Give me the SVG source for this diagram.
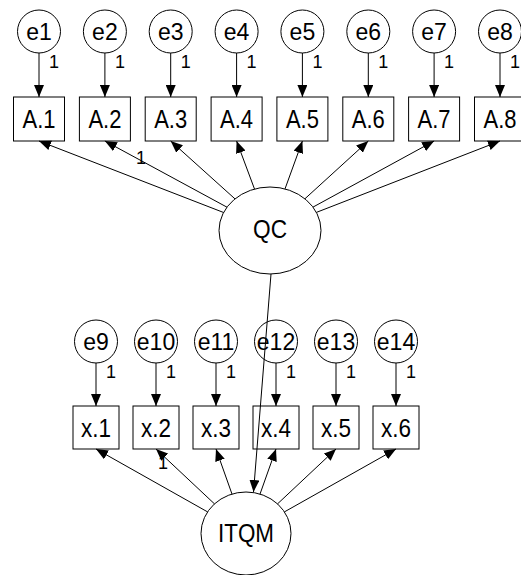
<svg xmlns="http://www.w3.org/2000/svg" width="521" height="575" viewBox="0 0 521 575">
<defs>
<marker id="ah" markerUnits="userSpaceOnUse" markerWidth="12" markerHeight="10" refX="12" refY="5" orient="auto">
<path d="M0,0 L12,5 L0,10 z" fill="#000"/>
</marker>
<style>
.n{fill:#fff;stroke:#000;stroke-width:1}
.t{font-family:"Liberation Sans",Arial,sans-serif;fill:#000;text-anchor:middle}
.e{font-size:23px}
.b{font-size:26px}
.l{font-size:26px}
.one{font-family:"Liberation Sans",Arial,sans-serif;font-size:18px;fill:#000}
.c{stroke:#000;stroke-width:1;fill:none;marker-end:url(#ah)}
</style>
</defs>
<rect width="521" height="575" fill="#fff"/>
<g id="e1"><circle class="n" cx="39" cy="31.5" r="21.5"/><text class="t e" x="39" y="39.7">e1</text></g>
<g id="e2"><circle class="n" cx="104.9" cy="31.5" r="21.5"/><text class="t e" x="104.9" y="39.7">e2</text></g>
<g id="e3"><circle class="n" cx="170.7" cy="31.5" r="21.5"/><text class="t e" x="170.7" y="39.7">e3</text></g>
<g id="e4"><circle class="n" cx="236.6" cy="31.5" r="21.5"/><text class="t e" x="236.6" y="39.7">e4</text></g>
<g id="e5"><circle class="n" cx="302.4" cy="31.5" r="21.5"/><text class="t e" x="302.4" y="39.7">e5</text></g>
<g id="e6"><circle class="n" cx="368.3" cy="31.5" r="21.5"/><text class="t e" x="368.3" y="39.7">e6</text></g>
<g id="e7"><circle class="n" cx="434.1" cy="31.5" r="21.5"/><text class="t e" x="434.1" y="39.7">e7</text></g>
<g id="e8"><circle class="n" cx="500" cy="31.5" r="21.5"/><text class="t e" x="500" y="39.7">e8</text></g>
<g id="A1"><rect class="n" x="13.5" y="97" width="51" height="44"/><text class="t b" x="39" y="127.5" textLength="33" lengthAdjust="spacingAndGlyphs">A.1</text></g>
<g id="A2"><rect class="n" x="79.4" y="97" width="51" height="44"/><text class="t b" x="104.9" y="127.5" textLength="33" lengthAdjust="spacingAndGlyphs">A.2</text></g>
<g id="A3"><rect class="n" x="145.2" y="97" width="51" height="44"/><text class="t b" x="170.7" y="127.5" textLength="33" lengthAdjust="spacingAndGlyphs">A.3</text></g>
<g id="A4"><rect class="n" x="211.1" y="97" width="51" height="44"/><text class="t b" x="236.6" y="127.5" textLength="33" lengthAdjust="spacingAndGlyphs">A.4</text></g>
<g id="A5"><rect class="n" x="276.9" y="97" width="51" height="44"/><text class="t b" x="302.4" y="127.5" textLength="33" lengthAdjust="spacingAndGlyphs">A.5</text></g>
<g id="A6"><rect class="n" x="342.8" y="97" width="51" height="44"/><text class="t b" x="368.3" y="127.5" textLength="33" lengthAdjust="spacingAndGlyphs">A.6</text></g>
<g id="A7"><rect class="n" x="408.6" y="97" width="51" height="44"/><text class="t b" x="434.1" y="127.5" textLength="33" lengthAdjust="spacingAndGlyphs">A.7</text></g>
<g id="A8"><rect class="n" x="474.5" y="97" width="51" height="44"/><text class="t b" x="500" y="127.5" textLength="33" lengthAdjust="spacingAndGlyphs">A.8</text></g>
<g id="QC"><ellipse class="n" cx="270" cy="230.5" rx="51" ry="43.5"/><text class="t l" x="270" y="238" textLength="34" lengthAdjust="spacingAndGlyphs">QC</text></g>
<g id="e9"><circle class="n" cx="96" cy="341.5" r="21.5"/><text class="t e" x="96" y="349.7">e9</text></g>
<g id="e10"><circle class="n" cx="156" cy="341.5" r="21.5"/><text class="t e" x="156" y="349.7">e10</text></g>
<g id="e11"><circle class="n" cx="216" cy="341.5" r="21.5"/><text class="t e" x="216" y="349.7">e11</text></g>
<g id="e12"><circle class="n" cx="276" cy="341.5" r="21.5"/><text class="t e" x="276" y="349.7">e12</text></g>
<g id="e13"><circle class="n" cx="336" cy="341.5" r="21.5"/><text class="t e" x="336" y="349.7">e13</text></g>
<g id="e14"><circle class="n" cx="396" cy="341.5" r="21.5"/><text class="t e" x="396" y="349.7">e14</text></g>
<g id="x1"><rect class="n" x="73" y="406" width="46" height="43"/><text class="t b" x="96" y="436.5" textLength="30" lengthAdjust="spacingAndGlyphs">x.1</text></g>
<g id="x2"><rect class="n" x="133" y="406" width="46" height="43"/><text class="t b" x="156" y="436.5" textLength="30" lengthAdjust="spacingAndGlyphs">x.2</text></g>
<g id="x3"><rect class="n" x="193" y="406" width="46" height="43"/><text class="t b" x="216" y="436.5" textLength="30" lengthAdjust="spacingAndGlyphs">x.3</text></g>
<g id="x4"><rect class="n" x="253" y="406" width="46" height="43"/><text class="t b" x="276" y="436.5" textLength="30" lengthAdjust="spacingAndGlyphs">x.4</text></g>
<g id="x5"><rect class="n" x="313" y="406" width="46" height="43"/><text class="t b" x="336" y="436.5" textLength="30" lengthAdjust="spacingAndGlyphs">x.5</text></g>
<g id="x6"><rect class="n" x="373" y="406" width="46" height="43"/><text class="t b" x="396" y="436.5" textLength="30" lengthAdjust="spacingAndGlyphs">x.6</text></g>
<g id="ITQM"><ellipse class="n" cx="246" cy="533.5" rx="45" ry="41.5"/><text class="t l" x="246" y="542" textLength="56" lengthAdjust="spacingAndGlyphs">ITQM</text></g>
<g id="connectors">
<line class="c" x1="39" y1="53" x2="39" y2="97"/>
<line class="c" x1="104.9" y1="53" x2="104.9" y2="97"/>
<line class="c" x1="170.7" y1="53" x2="170.7" y2="97"/>
<line class="c" x1="236.6" y1="53" x2="236.6" y2="97"/>
<line class="c" x1="302.4" y1="53" x2="302.4" y2="97"/>
<line class="c" x1="368.3" y1="53" x2="368.3" y2="97"/>
<line class="c" x1="434.1" y1="53" x2="434.1" y2="97"/>
<line class="c" x1="500" y1="53" x2="500" y2="97"/>
<line class="c" x1="223.6" y1="212.5" x2="39" y2="141"/>
<line class="c" x1="227" y1="207.2" x2="104.9" y2="141"/>
<line class="c" x1="235" y1="198.9" x2="170.7" y2="141"/>
<line class="c" x1="254.5" y1="189" x2="236.6" y2="141"/>
<line class="c" x1="285" y1="188.9" x2="302.4" y2="141"/>
<line class="c" x1="304.9" y1="198.8" x2="368.3" y2="141"/>
<line class="c" x1="313" y1="207.1" x2="434.1" y2="141"/>
<line class="c" x1="316.4" y1="212.4" x2="500" y2="141"/>
<line class="c" x1="271" y1="274" x2="253.5" y2="492"/>
<line class="c" x1="96" y1="363" x2="96" y2="406"/>
<line class="c" x1="156" y1="363" x2="156" y2="406"/>
<line class="c" x1="216" y1="363" x2="216" y2="406"/>
<line class="c" x1="276" y1="363" x2="276" y2="406"/>
<line class="c" x1="336" y1="363" x2="336" y2="406"/>
<line class="c" x1="396" y1="363" x2="396" y2="406"/>
<line class="c" x1="207.6" y1="511.9" x2="96" y2="449"/>
<line class="c" x1="214.5" y1="503.9" x2="156" y2="449"/>
<line class="c" x1="232" y1="494.1" x2="216" y2="449"/>
<line class="c" x1="260" y1="494.1" x2="276" y2="449"/>
<line class="c" x1="277.5" y1="503.9" x2="336" y2="449"/>
<line class="c" x1="284.4" y1="511.9" x2="396" y2="449"/>
</g>
<g id="labels">
<text class="one" x="49" y="68">1</text>
<text class="one" x="114.9" y="68">1</text>
<text class="one" x="180.7" y="68">1</text>
<text class="one" x="246.6" y="68">1</text>
<text class="one" x="312.4" y="68">1</text>
<text class="one" x="378.3" y="68">1</text>
<text class="one" x="444.1" y="68">1</text>
<text class="one" x="510" y="68">1</text>
<text class="one" x="136" y="164">1</text>
<text class="one" x="106" y="378">1</text>
<text class="one" x="166" y="378">1</text>
<text class="one" x="226" y="378">1</text>
<text class="one" x="286" y="378">1</text>
<text class="one" x="346" y="378">1</text>
<text class="one" x="406" y="378">1</text>
<text class="one" x="158" y="469">1</text>
</g>
</svg>
